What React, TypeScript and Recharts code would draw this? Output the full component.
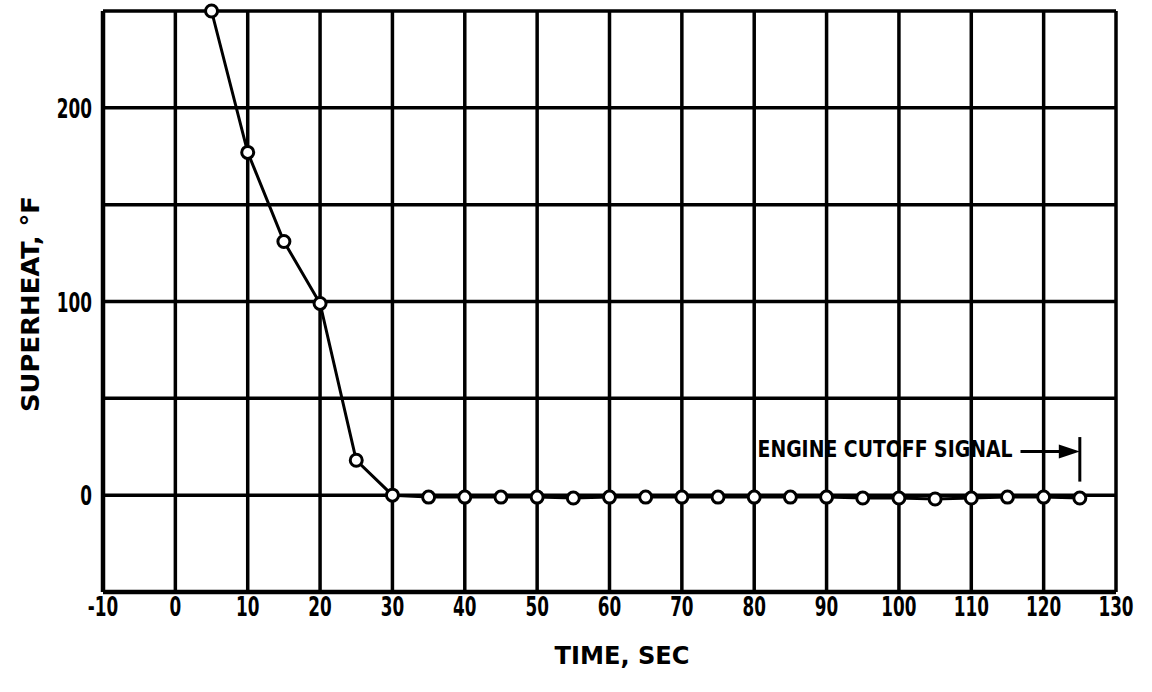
import React from 'react';
import {
  LineChart,
  Line,
  XAxis,
  YAxis,
  CartesianGrid,
  ReferenceLine,
  ReferenceDot,
  Label,
} from 'recharts';

// Superheat vs time
const TIMES = [5, 10, 15, 20, 25, 30, 35, 40, 45, 50, 55, 60, 65, 70, 75, 80, 85, 90, 95, 100, 105, 110, 115, 120, 125];
const SUPERHEAT = [250, 177, 131, 99, 18, 0, -1, -1, -1, -1, -1.5, -1, -1, -1, -1, -1, -1, -1, -1.5, -1.5, -2, -1.5, -1, -1, -1.5];

const X_TICKS = [-10, 0, 10, 20, 30, 40, 50, 60, 70, 80, 90, 100, 110, 120, 130];
const Y_TICKS = [-50, 0, 50, 100, 150, 200, 250];
const Y_LABELLED = [0, 100, 200];

// engine cutoff marker
const CUTOFF_TIME = 125;
const CUTOFF_BAR = [7, 30];
const ARROW_FROM = 116.8;
const ARROW_LEVEL = 22.5;
const NOTE_TEXT = 'ENGINE CUTOFF SIGNAL';

const FONT = "'DejaVu Sans Condensed', 'DejaVu Sans', sans-serif";
const SQUEEZE = 0.72;

const data = TIMES.map((t, i) => ({ t, v: SUPERHEAT[i] }));

const XTick = (props: any) => {
  const { x, y, payload } = props;
  return (
    <text
      transform={`translate(${x},${y + 19}) scale(${SQUEEZE},1)`}
      textAnchor="middle"
      fontFamily={FONT}
      fontWeight="bold"
      fontSize={26}
      fill="#000"
    >
      {payload.value}
    </text>
  );
};

const YTick = (props: any) => {
  const { x, y, payload } = props;
  if (!Y_LABELLED.includes(payload.value)) return <g />;
  return (
    <text
      transform={`translate(${x},${y + 10}) scale(${SQUEEZE},1)`}
      textAnchor="end"
      fontFamily={FONT}
      fontWeight="bold"
      fontSize={26}
      fill="#000"
    >
      {payload.value}
    </text>
  );
};

const ArrowShape = (props: any) => {
  const { x1, y1, x2, y2 } = props;
  return (
    <g>
      <line x1={x1} y1={y1} x2={x2 - 16} y2={y2} stroke="#000" strokeWidth={3} />
      <polygon points={`${x2 - 21},${y2 - 7} ${x2},${y2} ${x2 - 21},${y2 + 7}`} fill="#000" />
    </g>
  );
};

const NoteShape = (props: any) => (
  <text
    x={props.cx}
    y={props.cy + 8}
    textAnchor="end"
    textLength={255}
    lengthAdjust="spacingAndGlyphs"
    fontFamily={FONT}
    fontWeight="bold"
    fontSize={23}
    fill="#000"
  >
    {NOTE_TEXT}
  </text>
);

const XTitle = () => (
  <text
    x={622}
    y={664}
    textAnchor="middle"
    textLength={135}
    lengthAdjust="spacingAndGlyphs"
    fontFamily={FONT}
    fontWeight="bold"
    fontSize={24}
    fill="#000"
  >
    TIME, SEC
  </text>
);

const YTitle = () => (
  <text
    transform="translate(39,304) rotate(-90)"
    textAnchor="middle"
    textLength={216}
    lengthAdjust="spacingAndGlyphs"
    fontFamily={FONT}
    fontWeight="bold"
    fontSize={24}
    fill="#000"
  >
    SUPERHEAT, °F
  </text>
);

export default function App() {
  return (
    <div style={{ position: 'absolute', left: 0, top: 0, background: '#fff' }}>
      <LineChart
        width={1152}
        height={692}
        data={data}
        margin={{ top: 11, right: 36, left: 0, bottom: 40 }}
      >
        <CartesianGrid stroke="#000" strokeWidth={3.5} />
        <XAxis
          dataKey="t"
          type="number"
          domain={[-10, 130]}
          ticks={X_TICKS}
          interval={0}
          height={60}
          tickSize={0}
          tickMargin={5}
          axisLine={{ stroke: '#000', strokeWidth: 4.5 }}
          tick={<XTick />}
        >
          <Label content={<XTitle />} />
        </XAxis>
        <YAxis
          type="number"
          domain={[-50, 250]}
          ticks={Y_TICKS}
          interval={0}
          width={103}
          tickSize={0}
          tickMargin={11}
          axisLine={{ stroke: '#000', strokeWidth: 4.5 }}
          tick={<YTick />}
        >
          <Label content={<YTitle />} />
        </YAxis>
        <Line
          dataKey="v"
          stroke="#000"
          strokeWidth={3}
          isAnimationActive={false}
          dot={{ r: 6, fill: '#fff', stroke: '#000', strokeWidth: 3 }}
          activeDot={false}
        />
        <ReferenceLine
          segment={[
            { x: CUTOFF_TIME, y: CUTOFF_BAR[0] },
            { x: CUTOFF_TIME, y: CUTOFF_BAR[1] },
          ]}
          stroke="#000"
          strokeWidth={3}
        />
        <ReferenceLine
          segment={[
            { x: ARROW_FROM, y: ARROW_LEVEL },
            { x: CUTOFF_TIME, y: ARROW_LEVEL },
          ]}
          shape={ArrowShape}
        />
        <ReferenceDot x={115.7} y={24} r={0} shape={NoteShape} />
      </LineChart>
    </div>
  );
}
